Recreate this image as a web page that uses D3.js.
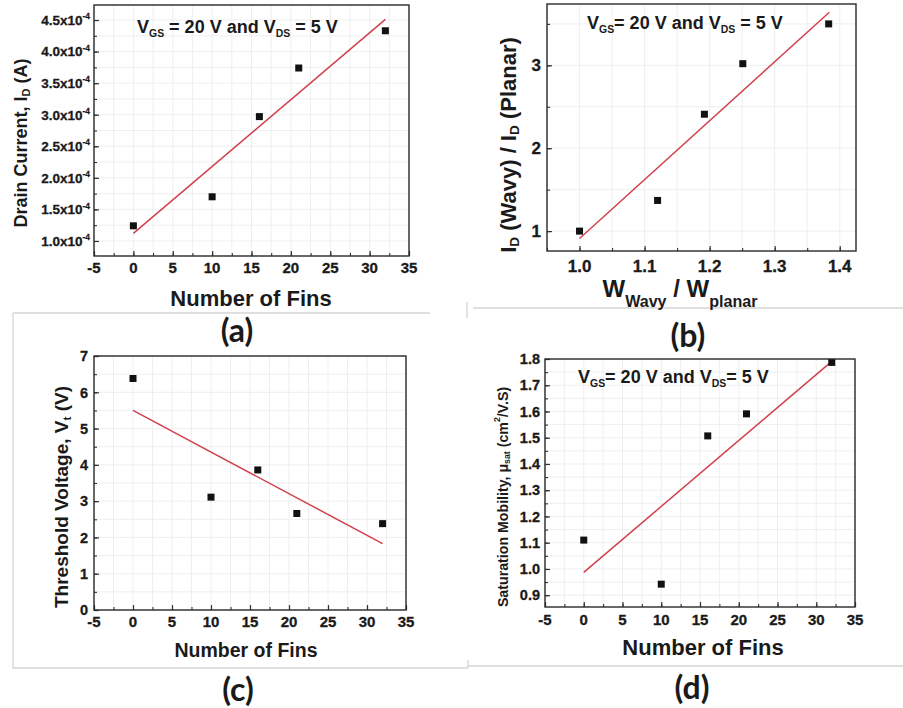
<!DOCTYPE html>
<html><head><meta charset="utf-8">
<script src="https://cdn.jsdelivr.net/npm/d3@7"></script>
<style>
body{margin:0;background:#fff}
svg{display:block}
text{font-family:"Liberation Sans",Arial,sans-serif;font-weight:bold;fill:#1a1a1a}
</style>
</head><body>
<svg id="chart" width="903" height="708"></svg>
<script>
// ---------- data ----------
const finCounts = [0, 10, 16, 21, 32];
const drainCurrent = [1.24e-4, 1.70e-4, 2.97e-4, 3.74e-4, 4.33e-4];
const drainFitX = [0, 32];
const drainFitY = [1.12e-4, 4.51e-4];

const widthRatio = [1.0, 1.12, 1.192, 1.251, 1.383];
const currentRatio = [1.0, 1.37, 2.41, 3.02, 3.50];
const ratioFitX = [1.0, 1.384];
const ratioFitY = [0.91, 3.64];

const thresholdVoltage = [6.38, 3.11, 3.86, 2.66, 2.38];
const thresholdFitX = [0, 32];
const thresholdFitY = [5.5, 1.83];

const mobility = [1.11, 0.942, 1.507, 1.591, 1.787];
const mobilityFitX = [0, 32];
const mobilityFitY = [0.987, 1.791];

const finTicks = [-5, 0, 5, 10, 15, 20, 25, 30, 35];
const drainTicks = [1.0e-4, 1.5e-4, 2.0e-4, 2.5e-4, 3.0e-4, 3.5e-4, 4.0e-4, 4.5e-4];
const ratioXTicks = [1.0, 1.1, 1.2, 1.3, 1.4];
const ratioYTicks = [1, 2, 3];
const thresholdTicks = [0, 1, 2, 3, 4, 5, 6, 7];
const mobilityTicks = [0.9, 1.0, 1.1, 1.2, 1.3, 1.4, 1.5, 1.6, 1.7, 1.8];

const svg = d3.select("#chart");
const FONT = "'Liberation Sans', Arial, sans-serif";

function rich(text, parts, size, opt) {
  opt = opt || {};
  const subShift = opt.subShift != null ? opt.subShift : 0.28;
  const subSize = opt.subSize != null ? opt.subSize : 0.62;
  let shift = 0;
  parts.forEach(([s, k]) => {
    const target = k === "sub" ? size * subShift : k === "sup" ? -size * 0.42 : 0;
    text.append("tspan")
      .attr("dy", target - shift)
      .style("font-size", (k === "n" ? size : size * subSize) + "px")
      .text(s);
    shift = target;
  });
}

function range(a, b, step) {
  const out = [];
  const n = Math.round((b - a) / step);
  for (let i = 0; i <= n; i++) out.push(+(a + i * step).toFixed(10));
  return out;
}

function panel(c) {
  const g = svg.append("g");
  const x = d3.scaleLinear().domain(c.xDomain).range([c.box.l, c.box.r]);
  const y = d3.scaleLinear().domain(c.yDomain).range([c.box.b, c.box.t]);

  // grid
  const gx = range(c.xDomain[0], c.xDomain[1], c.xMinor).filter(v => v >= c.xDomain[0] && v <= c.xDomain[1]);
  const gy = c.yMinorVals.filter(v => v >= c.yDomain[0] && v <= c.yDomain[1]);
  g.append("g").selectAll("line").data(gx).join("line")
    .attr("x1", d => x(d)).attr("x2", d => x(d))
    .attr("y1", c.box.t).attr("y2", c.box.b)
    .attr("stroke", "#ebebeb").attr("stroke-width", 0.8);
  g.append("g").selectAll("line").data(gy).join("line")
    .attr("y1", d => y(d)).attr("y2", d => y(d))
    .attr("x1", c.box.l).attr("x2", c.box.r)
    .attr("stroke", "#ebebeb").attr("stroke-width", 0.8);

  // fit line
  g.append("line")
    .attr("x1", x(c.fitX[0])).attr("y1", y(c.fitY[0]))
    .attr("x2", x(c.fitX[1])).attr("y2", y(c.fitY[1]))
    .attr("stroke", "#d0404e").attr("stroke-width", 1.5);

  // points
  const pts = c.xs.map((v, i) => [v, c.ys[i]]);
  const s = 7;
  g.append("g").selectAll("rect").data(pts).join("rect")
    .attr("x", d => x(d[0]) - s / 2).attr("y", d => y(d[1]) - s / 2)
    .attr("width", s).attr("height", s).attr("fill", "#111");

  // minor ticks
  const minorX = d3.axisBottom(x).tickValues(gx).tickSize(-3).tickSizeOuter(0).tickFormat("");
  const minorY = d3.axisLeft(y).tickValues(gy).tickSize(-3).tickSizeOuter(0).tickFormat("");
  g.append("g").attr("transform", `translate(0,${c.box.b})`).call(minorX)
    .call(a => a.select(".domain").remove())
    .call(a => a.selectAll("text").remove())
    .call(a => a.selectAll("line").attr("stroke", "#333").attr("stroke-width", 1.1));
  g.append("g").attr("transform", `translate(${c.box.l},0)`).call(minorY)
    .call(a => a.select(".domain").remove())
    .call(a => a.selectAll("text").remove())
    .call(a => a.selectAll("line").attr("stroke", "#333").attr("stroke-width", 1.1));

  // major ticks
  const ax = d3.axisBottom(x).tickValues(c.xTicks).tickSize(-5).tickSizeOuter(0).tickFormat("");
  const ay = d3.axisLeft(y).tickValues(c.yTicks).tickSize(-5).tickSizeOuter(0).tickFormat("");
  g.append("g").attr("transform", `translate(0,${c.box.b})`).call(ax)
    .call(a => a.select(".domain").remove())
    .call(a => a.selectAll("text").remove())
    .call(a => a.selectAll("line").attr("stroke", "#333").attr("stroke-width", 1.2));
  g.append("g").attr("transform", `translate(${c.box.l},0)`).call(ay)
    .call(a => a.select(".domain").remove())
    .call(a => a.selectAll("text").remove())
    .call(a => a.selectAll("line").attr("stroke", "#333").attr("stroke-width", 1.2));

  // tick labels (explicit)
  g.append("g").selectAll("text").data(c.xTicks).join("text")
    .attr("x", d => x(d)).attr("y", c.box.b + c.xBase)
    .attr("text-anchor", "middle")
    .style("font-family", FONT).style("font-weight", "bold")
    .style("font-size", c.xFont + "px")
    .style("stroke", "#1a1a1a").style("stroke-width", "0.3px")
    .text(c.xFmt);
  const yl = g.append("g").selectAll("text").data(c.yTicks).join("text")
    .attr("x", c.box.l - c.yGap).attr("y", d => y(d) + c.yFont * 0.36)
    .attr("text-anchor", "end")
    .style("font-family", FONT).style("font-weight", "bold")
    .style("font-size", c.yFont + "px")
    .style("stroke", "#1a1a1a").style("stroke-width", "0.3px");
  if (c.yRich) {
    yl.each(function (d) { rich(d3.select(this), c.yRich(d), c.yFont, { subSize: 0.62 }); });
  } else {
    yl.text(c.yFmt);
  }

  // frame
  g.append("rect")
    .attr("x", c.box.l).attr("y", c.box.t)
    .attr("width", c.box.r - c.box.l).attr("height", c.box.b - c.box.t)
    .attr("fill", "none").attr("stroke", "#2a2a2a").attr("stroke-width", 1.4);

  // axis titles
  const xt = g.append("text").attr("x", c.xLabel.x).attr("y", c.xLabel.y)
    .attr("text-anchor", "middle");
  rich(xt, c.xLabel.parts, c.xLabel.size, c.xLabel.opt);
  const yt = g.append("text")
    .attr("transform", `translate(${c.yLabel.x},${c.yLabel.y}) rotate(-90)`)
    .attr("text-anchor", "middle").attr("dominant-baseline", "central");
  rich(yt, c.yLabel.parts, c.yLabel.size, c.yLabel.opt);

  if (c.title) {
    const tt = g.append("text").attr("x", c.title.x).attr("y", c.title.y);
    rich(tt, c.title.parts, c.title.size, { subShift: 0.24, subSize: 0.58 });
  }

  // panel letter
  g.append("text").attr("x", c.letter.x).attr("y", c.letter.y)
    .attr("text-anchor", "middle").attr("dominant-baseline", "central")
    .style("font-family", "Lato, 'Open Sans', sans-serif")
    .style("font-size", "32px").text(c.letter.t);
}

// background document frames
const frames = [
  [13, 313, 13, 668], [13, 668, 468, 668], [13, 313, 430, 313],
  [473, 308, 903, 308], [467, 302, 467, 318], [468, 666, 903, 666], [468, 660, 468, 668]
];
svg.append("g").selectAll("line").data(frames).join("line")
  .attr("x1", d => d[0]).attr("y1", d => d[1]).attr("x2", d => d[2]).attr("y2", d => d[3])
  .attr("stroke", "#d4d4d4").attr("stroke-width", 1.3);

const finFmt = d => String(d);

// (a)
panel({
  box: { l: 94, r: 409, t: 5, b: 256 },
  xDomain: [-5, 35], yDomain: [0.762e-4, 4.738e-4],
  xTicks: finTicks, xMinor: 2.5,
  yTicks: drainTicks, yMinorVals: range(0.75e-4, 4.75e-4, 0.25e-4),
  xs: finCounts, ys: drainCurrent, fitX: drainFitX, fitY: drainFitY,
  xFmt: finFmt, xBase: 17, yGap: 4, xFont: 15, yFont: 13.5,
  yRich: d => [[(d * 1e4).toFixed(1) + "x10", "n"], ["-4", "sup"]],
  xLabel: { x: 251, y: 306, size: 22, parts: [["Number of Fins", "n"]] },
  yLabel: { x: 21, y: 143, size: 18, parts: [["Drain Current, I", "n"], ["D", "sub"], [" (A)", "n"]] },
  title: { x: 137, y: 33, size: 18, parts: [["V", "n"], ["GS", "sub"], [" = 20 V and V", "n"], ["DS", "sub"], [" = 5 V", "n"]] },
  letter: { x: 237, y: 329, t: "(a)" }
});

// (b)
panel({
  box: { l: 547, r: 856, t: 4, b: 251 },
  xDomain: [0.95, 1.425], yDomain: [0.76, 3.74],
  xTicks: ratioXTicks, xMinor: 0.05,
  yTicks: ratioYTicks, yMinorVals: range(0.5, 4.0, 0.5),
  xs: widthRatio, ys: currentRatio, fitX: ratioFitX, fitY: ratioFitY,
  xFmt: d3.format(".1f"), yFmt: d3.format("d"), xBase: 21, yGap: 6, xFont: 17, yFont: 17,
  xLabel: { x: 680, y: 297, size: 24, parts: [["W", "n"], ["Wavy", "sub"], [" / W", "n"], ["planar", "sub"]], opt: { subShift: 0.4, subSize: 0.67 } },
  yLabel: { x: 508, y: 145, size: 22, parts: [["I", "n"], ["D", "sub"], [" (Wavy) / I", "n"], ["D", "sub"], [" (Planar)", "n"]] },
  title: { x: 587, y: 29, size: 18, parts: [["V", "n"], ["GS", "sub"], ["= 20 V and V", "n"], ["DS", "sub"], [" = 5 V", "n"]] },
  letter: { x: 688, y: 334, t: "(b)" }
});

// (c)
panel({
  box: { l: 94, r: 406, t: 356, b: 610 },
  xDomain: [-5, 35], yDomain: [0, 7],
  xTicks: finTicks, xMinor: 2.5,
  yTicks: thresholdTicks, yMinorVals: range(0, 7, 0.5),
  xs: finCounts, ys: thresholdVoltage, fitX: thresholdFitX, fitY: thresholdFitY,
  xFmt: finFmt, yFmt: d3.format("d"), xBase: 17, yGap: 6, xFont: 15, yFont: 14.5,
  xLabel: { x: 246, y: 657, size: 19.5, parts: [["Number of Fins", "n"]] },
  yLabel: { x: 61, y: 497, size: 19, parts: [["Threshold Voltage, V", "n"], ["t", "sub"], [" (V)", "n"]] },
  letter: { x: 238, y: 688, t: "(c)" }
});

// (d)
panel({
  box: { l: 545, r: 855, t: 359, b: 607 },
  xDomain: [-5, 35], yDomain: [0.855, 1.8],
  xTicks: finTicks, xMinor: 2.5,
  yTicks: mobilityTicks, yMinorVals: range(0.85, 1.8, 0.05),
  xs: finCounts, ys: mobility, fitX: mobilityFitX, fitY: mobilityFitY,
  xFmt: finFmt, yFmt: d3.format(".1f"), xBase: 18, yGap: 5, xFont: 15, yFont: 14.5,
  xLabel: { x: 703, y: 655, size: 22, parts: [["Number of Fins", "n"]] },
  yLabel: { x: 503, y: 497, size: 14.2, parts: [["Saturation Mobility, \u03bc", "n"], ["sat", "sub"], [" (cm", "n"], ["2", "sup"], ["/V.S)", "n"]] },
  title: { x: 578, y: 383, size: 18, parts: [["V", "n"], ["GS", "sub"], ["= 20 V and V", "n"], ["DS", "sub"], ["= 5 V", "n"]] },
  letter: { x: 692, y: 686, t: "(d)" }
});
</script>
</body></html>
